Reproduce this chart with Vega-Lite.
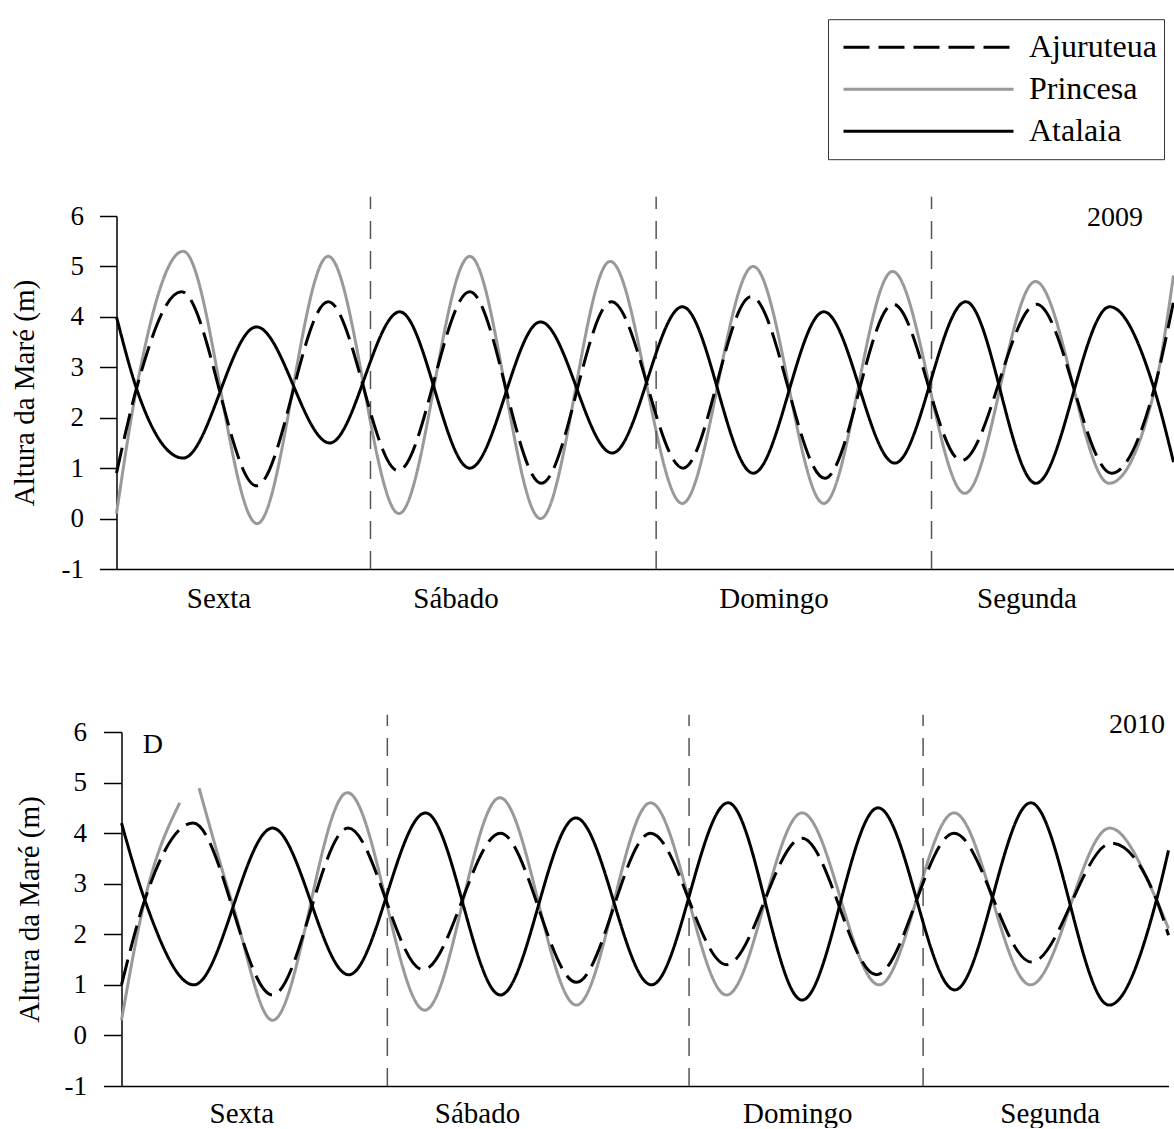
{
  "$schema": "https://vega.github.io/schema/vega-lite/v6.json",
  "background": "white",
  "padding": {"left": 9.5, "top": 18, "right": 0, "bottom": 0},
  "spacing": 97,
  "center": true,
  "config": {
    "view": {"stroke": null},
    "font": "Liberation Serif",
    "axis": {"grid": false, "domainColor": "black", "domainWidth": 1.5, "tickColor": "black", "tickWidth": 1.5, "labelColor": "black", "titleColor": "black", "labelFont": "Liberation Serif", "titleFont": "Liberation Serif", "titleFontWeight": "normal"}
  },
  "datasets": {
    "mare2009": [
      {"estacao": "Princesa", "hora": 0, "altura": 0.1},
      {"estacao": "Princesa", "hora": 1.75, "altura": 2.58},
      {"estacao": "Princesa", "hora": 5.83, "altura": 5.3},
      {"estacao": "Princesa", "hora": 12.3, "altura": -0.1},
      {"estacao": "Princesa", "hora": 18.51, "altura": 5.2},
      {"estacao": "Princesa", "hora": 24.7, "altura": 0.1},
      {"estacao": "Princesa", "hora": 30.89, "altura": 5.2},
      {"estacao": "Princesa", "hora": 37.08, "altura": 0.0},
      {"estacao": "Princesa", "hora": 43.17, "altura": 5.1},
      {"estacao": "Princesa", "hora": 49.47, "altura": 0.3},
      {"estacao": "Princesa", "hora": 55.68, "altura": 5.0},
      {"estacao": "Princesa", "hora": 61.85, "altura": 0.3},
      {"estacao": "Princesa", "hora": 67.86, "altura": 4.9},
      {"estacao": "Princesa", "hora": 74.18, "altura": 0.5},
      {"estacao": "Princesa", "hora": 80.36, "altura": 4.7},
      {"estacao": "Princesa", "hora": 86.8, "altura": 0.7},
      {"estacao": "Princesa", "hora": 90.77, "altura": 2.55},
      {"estacao": "Princesa", "hora": 92.43, "altura": 4.82},
      {"estacao": "Ajuruteua", "hora": 0, "altura": 0.9},
      {"estacao": "Ajuruteua", "hora": 1.75, "altura": 2.58},
      {"estacao": "Ajuruteua", "hora": 5.68, "altura": 4.5},
      {"estacao": "Ajuruteua", "hora": 12.24, "altura": 0.65},
      {"estacao": "Ajuruteua", "hora": 18.51, "altura": 4.3},
      {"estacao": "Ajuruteua", "hora": 24.63, "altura": 0.95},
      {"estacao": "Ajuruteua", "hora": 30.89, "altura": 4.5},
      {"estacao": "Ajuruteua", "hora": 37.16, "altura": 0.7},
      {"estacao": "Ajuruteua", "hora": 43.28, "altura": 4.3},
      {"estacao": "Ajuruteua", "hora": 49.55, "altura": 1.0},
      {"estacao": "Ajuruteua", "hora": 55.5, "altura": 4.4},
      {"estacao": "Ajuruteua", "hora": 61.94, "altura": 0.8},
      {"estacao": "Ajuruteua", "hora": 67.92, "altura": 4.25},
      {"estacao": "Ajuruteua", "hora": 73.89, "altura": 1.15},
      {"estacao": "Ajuruteua", "hora": 80.45, "altura": 4.25},
      {"estacao": "Ajuruteua", "hora": 87.01, "altura": 0.9},
      {"estacao": "Ajuruteua", "hora": 90.77, "altura": 2.6},
      {"estacao": "Ajuruteua", "hora": 92.43, "altura": 4.3},
      {"estacao": "Atalaia", "hora": 0, "altura": 4.0},
      {"estacao": "Atalaia", "hora": 1.75, "altura": 2.58},
      {"estacao": "Atalaia", "hora": 5.83, "altura": 1.2},
      {"estacao": "Atalaia", "hora": 12.24, "altura": 3.8},
      {"estacao": "Atalaia", "hora": 18.65, "altura": 1.5},
      {"estacao": "Atalaia", "hora": 24.77, "altura": 4.1},
      {"estacao": "Atalaia", "hora": 30.89, "altura": 1.0},
      {"estacao": "Atalaia", "hora": 37.08, "altura": 3.9},
      {"estacao": "Atalaia", "hora": 43.35, "altura": 1.3},
      {"estacao": "Atalaia", "hora": 49.49, "altura": 4.2},
      {"estacao": "Atalaia", "hora": 55.68, "altura": 0.9},
      {"estacao": "Atalaia", "hora": 61.85, "altura": 4.1},
      {"estacao": "Atalaia", "hora": 68.06, "altura": 1.1},
      {"estacao": "Atalaia", "hora": 74.27, "altura": 4.3},
      {"estacao": "Atalaia", "hora": 80.39, "altura": 0.7},
      {"estacao": "Atalaia", "hora": 86.86, "altura": 4.2},
      {"estacao": "Atalaia", "hora": 90.77, "altura": 2.55},
      {"estacao": "Atalaia", "hora": 92.43, "altura": 1.12}
    ],
    "mare2010": [
      {"estacao": "Princesa", "hora": 0, "altura": 0.3, "trecho": 1},
      {"estacao": "Princesa", "hora": 1.9, "altura": 2.68, "trecho": 1},
      {"estacao": "Princesa", "hora": 4.76, "altura": 4.6, "trecho": 1},
      {"estacao": "Princesa", "hora": 6.34, "altura": 4.89, "trecho": 2},
      {"estacao": "Princesa", "hora": 9.09, "altura": 2.58, "trecho": 2},
      {"estacao": "Princesa", "hora": 12.34, "altura": 0.3, "trecho": 2},
      {"estacao": "Princesa", "hora": 18.46, "altura": 4.8, "trecho": 2},
      {"estacao": "Princesa", "hora": 24.78, "altura": 0.5, "trecho": 2},
      {"estacao": "Princesa", "hora": 30.91, "altura": 4.7, "trecho": 2},
      {"estacao": "Princesa", "hora": 37.17, "altura": 0.6, "trecho": 2},
      {"estacao": "Princesa", "hora": 43.22, "altura": 4.6, "trecho": 2},
      {"estacao": "Princesa", "hora": 49.43, "altura": 0.8, "trecho": 2},
      {"estacao": "Princesa", "hora": 55.6, "altura": 4.4, "trecho": 2},
      {"estacao": "Princesa", "hora": 61.9, "altura": 1.0, "trecho": 2},
      {"estacao": "Princesa", "hora": 68.02, "altura": 4.4, "trecho": 2},
      {"estacao": "Princesa", "hora": 74.26, "altura": 1.0, "trecho": 2},
      {"estacao": "Princesa", "hora": 80.74, "altura": 4.1, "trecho": 2},
      {"estacao": "Princesa", "hora": 84.56, "altura": 2.68, "trecho": 2},
      {"estacao": "Princesa", "hora": 85.54, "altura": 2.11, "trecho": 2},
      {"estacao": "Ajuruteua", "hora": 0, "altura": 1.0},
      {"estacao": "Ajuruteua", "hora": 1.9, "altura": 2.68},
      {"estacao": "Ajuruteua", "hora": 5.85, "altura": 4.2},
      {"estacao": "Ajuruteua", "hora": 12.34, "altura": 0.8},
      {"estacao": "Ajuruteua", "hora": 18.51, "altura": 4.1},
      {"estacao": "Ajuruteua", "hora": 24.64, "altura": 1.3},
      {"estacao": "Ajuruteua", "hora": 30.96, "altura": 4.0},
      {"estacao": "Ajuruteua", "hora": 37.17, "altura": 1.05},
      {"estacao": "Ajuruteua", "hora": 43.22, "altura": 4.0},
      {"estacao": "Ajuruteua", "hora": 49.43, "altura": 1.4},
      {"estacao": "Ajuruteua", "hora": 55.6, "altura": 3.9},
      {"estacao": "Ajuruteua", "hora": 61.68, "altura": 1.2},
      {"estacao": "Ajuruteua", "hora": 68.02, "altura": 4.0},
      {"estacao": "Ajuruteua", "hora": 74.35, "altura": 1.45},
      {"estacao": "Ajuruteua", "hora": 80.88, "altura": 3.8},
      {"estacao": "Ajuruteua", "hora": 84.56, "altura": 2.68},
      {"estacao": "Ajuruteua", "hora": 85.54, "altura": 1.98},
      {"estacao": "Atalaia", "hora": 0, "altura": 4.2},
      {"estacao": "Atalaia", "hora": 1.9, "altura": 2.68},
      {"estacao": "Atalaia", "hora": 5.91, "altura": 1.0},
      {"estacao": "Atalaia", "hora": 12.34, "altura": 4.1},
      {"estacao": "Atalaia", "hora": 18.57, "altura": 1.2},
      {"estacao": "Atalaia", "hora": 24.84, "altura": 4.4},
      {"estacao": "Atalaia", "hora": 30.96, "altura": 0.8},
      {"estacao": "Atalaia", "hora": 37.12, "altura": 4.3},
      {"estacao": "Atalaia", "hora": 43.3, "altura": 1.0},
      {"estacao": "Atalaia", "hora": 49.56, "altura": 4.6},
      {"estacao": "Atalaia", "hora": 55.6, "altura": 0.7},
      {"estacao": "Atalaia", "hora": 61.81, "altura": 4.5},
      {"estacao": "Atalaia", "hora": 68.08, "altura": 0.9},
      {"estacao": "Atalaia", "hora": 74.29, "altura": 4.6},
      {"estacao": "Atalaia", "hora": 80.69, "altura": 0.6},
      {"estacao": "Atalaia", "hora": 84.56, "altura": 2.68},
      {"estacao": "Atalaia", "hora": 85.54, "altura": 3.66}
    ],
    "dias2009": [{"hora": 22.21}, {"hora": 47.19}, {"hora": 71.27}],
    "dias2010": [{"hora": 21.72}, {"hora": 46.37}, {"hora": 65.49}],
    "rotulos2009": [{"hora": 87.31, "altura": 5.96, "texto": "2009"}],
    "rotulos2010": [{"hora": 82.97, "altura": 6.14, "texto": "2010"}, {"hora": 2.56, "altura": 5.75, "texto": "D"}]
  },
  "vconcat": [
    {
      "width": 1057,
      "height": 353,
      "encoding": {
        "x": {"field": "hora", "type": "quantitative", "scale": {"domain": [0, 92.43], "nice": false, "zero": false},
          "axis": {"title": null, "ticks": false, "tickSize": 0, "values": [8.92, 29.64, 57.45, 79.57], "labelExpr": "datum.value < 20 ? 'Sexta' : datum.value < 45 ? 'Sábado' : datum.value < 70 ? 'Domingo' : 'Segunda'", "labelFontSize": 29, "labelPadding": 15, "labelFlush": false, "labelOverlap": false}}
      },
      "layer": [
        {
          "data": {"name": "mare2009"},
          "transform": [{"filter": "datum.estacao === 'Princesa'"}],
          "mark": {"type": "line", "interpolate": "monotone", "strokeWidth": 3},
          "encoding": {
            "y": {"field": "altura", "type": "quantitative", "scale": {"domain": [-1, 6], "nice": false, "zero": false},
              "axis": {"title": "Altura da Maré (m)", "titleFontSize": 29, "titlePadding": 22, "values": [-1, -0.5, 0, 0.5, 1, 1.5, 2, 2.5, 3, 3.5, 4, 4.5, 5, 5.5, 6], "labelExpr": "datum.value % 1 === 0 ? '' + datum.value : ''", "labelFontSize": 27, "labelPadding": 16, "tickSize": 17, "labelOverlap": false, "labelFlush": false,
                "encode": {"ticks": {"update": {"x2": {"signal": "datum.value % 1 === 0 ? -17 : -9"}}}}}},
            "color": {"field": "estacao", "type": "nominal", "scale": {"domain": ["Ajuruteua", "Princesa", "Atalaia"], "range": ["black", "#999999", "black"]},
              "legend": {"orient": "none", "legendX": 711.5, "legendY": -196.8, "title": null, "symbolType": "stroke", "symbolSize": 28900, "symbolStrokeWidth": 3, "labelFontSize": 32, "labelFont": "Liberation Serif", "labelColor": "black", "clipHeight": 42, "padding": 7, "symbolOffset": 7, "labelOffset": 14, "strokeColor": "#333333", "rowPadding": 0, "labelLimit": 0}},
            "strokeDash": {"field": "estacao", "type": "nominal", "scale": {"domain": ["Ajuruteua", "Princesa", "Atalaia"], "range": [[26, 9], [1, 0], [1, 0]]},
              "legend": {"orient": "none", "legendX": 711.5, "legendY": -196.8, "title": null, "symbolType": "stroke", "symbolSize": 28900, "symbolStrokeWidth": 3, "labelFontSize": 32, "labelFont": "Liberation Serif", "labelColor": "black", "clipHeight": 42, "padding": 7, "symbolOffset": 7, "labelOffset": 14, "strokeColor": "#333333", "rowPadding": 0, "labelLimit": 0}}
          }
        },
        {
          "data": {"name": "dias2009"},
          "mark": {"type": "rule", "color": "#555555", "strokeWidth": 1.5, "strokeDash": [18, 12]},
          "encoding": {"y": {"datum": -1, "type": "quantitative"}, "y2": {"datum": 6.38}}
        },
        {
          "data": {"name": "mare2009"},
          "transform": [{"filter": "datum.estacao !== 'Princesa'"}],
          "mark": {"type": "line", "interpolate": "monotone", "strokeWidth": 3},
          "encoding": {
            "y": {"field": "altura", "type": "quantitative", "axis": {"title": "Altura da Maré (m)"}},
            "color": {"field": "estacao", "type": "nominal"},
            "strokeDash": {"field": "estacao", "type": "nominal"}
          }
        },
        {
          "data": {"name": "rotulos2009"},
          "mark": {"type": "text", "font": "Liberation Serif", "fontSize": 28, "baseline": "middle", "align": "center", "color": "black"},
          "encoding": {
            "y": {"field": "altura", "type": "quantitative", "axis": {"title": "Altura da Maré (m)"}},
            "text": {"field": "texto"}
          }
        }
      ]
    },
    {
      "width": 1047,
      "height": 354,
      "encoding": {
        "x": {"field": "hora", "type": "quantitative", "scale": {"domain": [0, 85.54], "nice": false, "zero": false},
          "axis": {"title": null, "ticks": false, "tickSize": 0, "values": [9.79, 29.04, 55.21, 75.84], "labelExpr": "datum.value < 20 ? 'Sexta' : datum.value < 45 ? 'Sábado' : datum.value < 70 ? 'Domingo' : 'Segunda'", "labelFontSize": 29, "labelPadding": 13, "labelFlush": false, "labelOverlap": false}}
      },
      "layer": [
        {
          "data": {"name": "mare2010"},
          "transform": [{"filter": "datum.estacao === 'Princesa'"}],
          "mark": {"type": "line", "interpolate": "monotone", "strokeWidth": 3},
          "encoding": {
            "y": {"field": "altura", "type": "quantitative", "scale": {"domain": [-1, 6], "nice": false, "zero": false},
              "axis": {"title": "Altura da Maré (m)", "titleFontSize": 29, "titlePadding": 20, "values": [-1, -0.5, 0, 0.5, 1, 1.5, 2, 2.5, 3, 3.5, 4, 4.5, 5, 5.5, 6], "labelExpr": "datum.value % 1 === 0 ? '' + datum.value : ''", "labelFontSize": 27, "labelPadding": 17, "tickSize": 18, "labelOverlap": false, "labelFlush": false,
                "encode": {"ticks": {"update": {"x2": {"signal": "datum.value % 1 === 0 ? -18 : -9"}}}}}},
            "color": {"field": "estacao", "type": "nominal"},
            "strokeDash": {"field": "estacao", "type": "nominal"},
            "detail": {"field": "trecho", "type": "nominal"}
          }
        },
        {
          "data": {"name": "dias2010"},
          "mark": {"type": "rule", "color": "#555555", "strokeWidth": 1.5, "strokeDash": [18, 12]},
          "encoding": {"y": {"datum": -1, "type": "quantitative"}, "y2": {"datum": 6.34}}
        },
        {
          "data": {"name": "mare2010"},
          "transform": [{"filter": "datum.estacao !== 'Princesa'"}],
          "mark": {"type": "line", "interpolate": "monotone", "strokeWidth": 3},
          "encoding": {
            "y": {"field": "altura", "type": "quantitative", "axis": {"title": "Altura da Maré (m)"}},
            "color": {"field": "estacao", "type": "nominal"},
            "strokeDash": {"field": "estacao", "type": "nominal"}
          }
        },
        {
          "data": {"name": "rotulos2010"},
          "mark": {"type": "text", "font": "Liberation Serif", "fontSize": 28, "baseline": "middle", "align": "center", "color": "black"},
          "encoding": {
            "y": {"field": "altura", "type": "quantitative", "axis": {"title": "Altura da Maré (m)"}},
            "text": {"field": "texto"}
          }
        }
      ]
    }
  ]
}
